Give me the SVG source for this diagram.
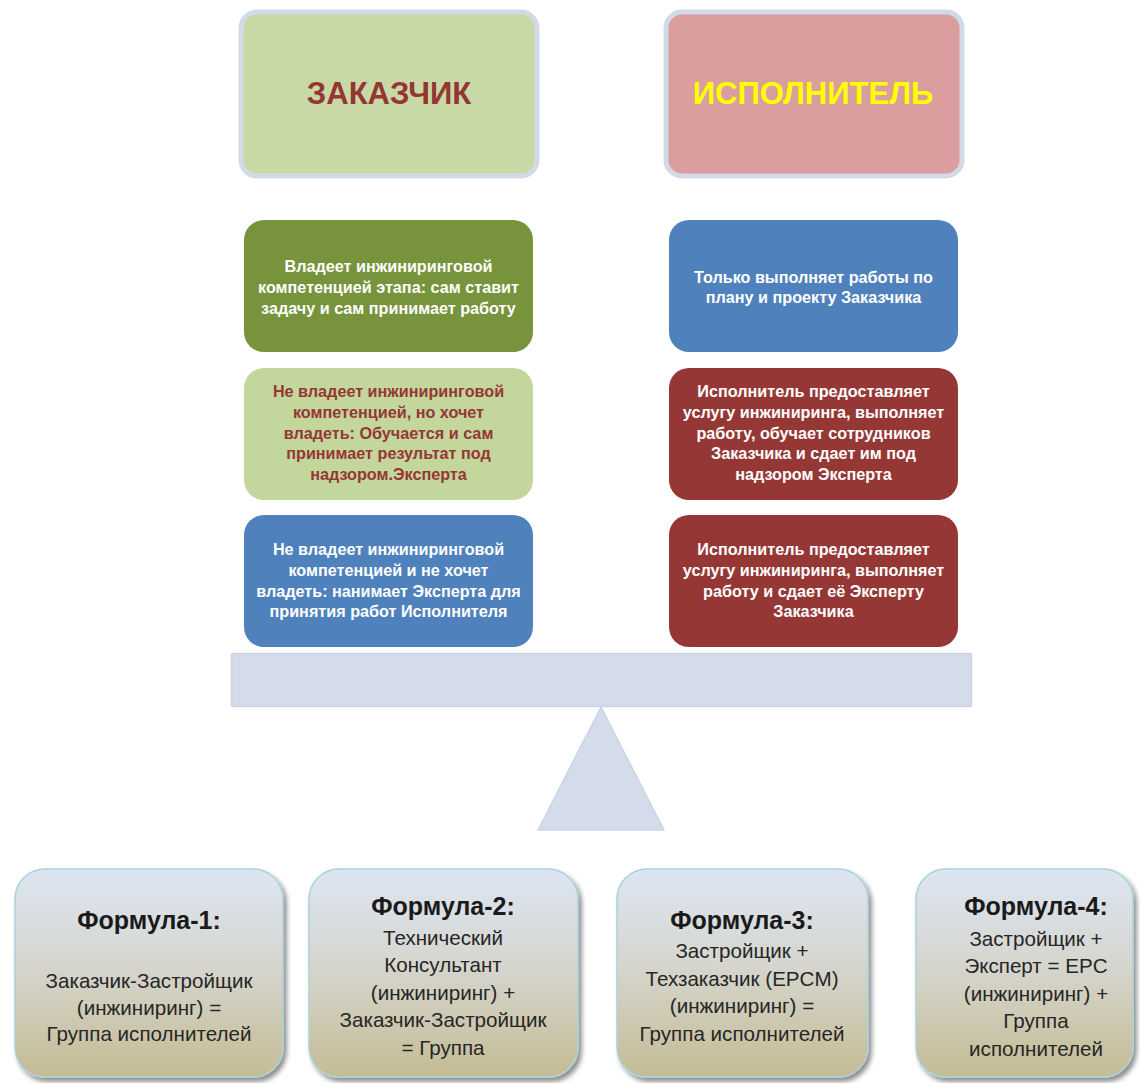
<svg xmlns="http://www.w3.org/2000/svg" width="1140" height="1083" viewBox="0 0 1140 1083">
<defs>
<linearGradient id="fg" x1="0" y1="0" x2="0" y2="1">
<stop offset="0" stop-color="#DCE6F2"/>
<stop offset="0.45" stop-color="#D6D6D0"/>
<stop offset="1" stop-color="#C4BC94"/>
</linearGradient>
<filter id="sh" x="-10%" y="-10%" width="125%" height="125%">
<feDropShadow dx="3" dy="4" stdDeviation="2.5" flood-color="#000" flood-opacity="0.45"/>
</filter>
</defs>
<style>
.top{stroke:#D2DAE8;stroke-width:5}
.title{font-family:"Liberation Sans",Arial,sans-serif;font-weight:bold;font-size:31px;text-anchor:middle}
.mid{font-family:"Liberation Sans",Arial,sans-serif;font-weight:bold;font-size:16.2px;text-anchor:middle}
.w{fill:#FFFFFF}
.r{fill:#953735}
.beam{fill:#D4DBEA;stroke:#CCD4E6;stroke-width:1.5}
.fbox{fill:url(#fg);stroke:#A9D2DA;stroke-width:1.5;filter:url(#sh)}
.fh{font-family:"Liberation Sans",Arial,sans-serif;font-weight:bold;font-size:25px;text-anchor:middle;fill:#1A1A1A}
.fb{font-family:"Liberation Sans",Arial,sans-serif;font-size:20.6px;text-anchor:middle;fill:#262626}
</style>
<rect width="1140" height="1083" fill="#FFFFFF"/>

<g id="zakazchik">
<rect class="top" x="241" y="12" width="296" height="164" rx="16" fill="#C9D9A5"/>
<text class="title" x="389" y="104" fill="#943634">ЗАКАЗЧИК</text>
</g>
<g id="ispolnitel">
<rect class="top" x="666" y="12" width="296" height="164" rx="16" fill="#D99E9D"/>
<text class="title" x="813" y="104" fill="#FFFF00">ИСПОЛНИТЕЛЬ</text>
</g>

<g id="z1">
<rect x="244" y="220" width="289" height="132" rx="20" fill="#77933C"/>
<text class="mid w"><tspan x="388.5" y="272">Владеет инжиниринговой</tspan><tspan x="388.5" y="293">компетенцией этапа: сам ставит</tspan><tspan x="388.5" y="314">задачу и сам принимает работу</tspan></text>
</g>
<g id="z2">
<rect x="244" y="368" width="289" height="132" rx="20" fill="#C3D69B"/>
<text class="mid r"><tspan x="388.5" y="397">Не владеет инжиниринговой</tspan><tspan x="388.5" y="418">компетенцией, но хочет</tspan><tspan x="388.5" y="438.5">владеть: Обучается и сам</tspan><tspan x="388.5" y="459">принимает результат под</tspan><tspan x="388.5" y="480">надзором.Эксперта</tspan></text>
</g>
<g id="z3">
<rect x="244" y="515" width="289" height="132" rx="20" fill="#4F81BD"/>
<text class="mid w"><tspan x="388.5" y="555">Не владеет инжиниринговой</tspan><tspan x="388.5" y="576">компетенцией и не хочет</tspan><tspan x="388.5" y="596.5">владеть: нанимает Эксперта для</tspan><tspan x="388.5" y="617">принятия работ Исполнителя</tspan></text>
</g>

<g id="i1">
<rect x="669" y="220" width="289" height="132" rx="20" fill="#4F81BD"/>
<text class="mid w"><tspan x="813.5" y="283">Только выполняет работы по</tspan><tspan x="813.5" y="303">плану и проекту Заказчика</tspan></text>
</g>
<g id="i2">
<rect x="669" y="368" width="289" height="132" rx="20" fill="#953735"/>
<text class="mid w"><tspan x="813.5" y="397">Исполнитель  предоставляет</tspan><tspan x="813.5" y="418">услугу инжиниринга, выполняет</tspan><tspan x="813.5" y="438.5">работу, обучает сотрудников</tspan><tspan x="813.5" y="459">Заказчика и сдает им под</tspan><tspan x="813.5" y="480">надзором Эксперта</tspan></text>
</g>
<g id="i3">
<rect x="669" y="515" width="289" height="132" rx="20" fill="#953735"/>
<text class="mid w"><tspan x="813.5" y="555">Исполнитель предоставляет</tspan><tspan x="813.5" y="576">услугу инжиниринга, выполняет</tspan><tspan x="813.5" y="596.5">работу и сдает её Эксперту</tspan><tspan x="813.5" y="617">Заказчика</tspan></text>
</g>

<g id="scale">
<rect class="beam" x="231.5" y="653.5" width="740" height="53" rx="2"/>
<polygon class="beam" points="601,707 664,830 538,830" stroke-linejoin="round"/>
</g>

<g id="f1">
<rect class="fbox" x="15" y="869" width="268" height="208" rx="30"/>
<text class="fh" x="149" y="929">Формула-1:</text>
<text class="fb"><tspan x="149" y="988">Заказчик-Застройщик</tspan><tspan x="149" y="1015">(инжиниринг) =</tspan><tspan x="149" y="1041">Группа исполнителей</tspan></text>
</g>
<g id="f2">
<rect class="fbox" x="309" y="869" width="269" height="208" rx="30"/>
<text class="fh" x="443" y="915">Формула-2:</text>
<text class="fb"><tspan x="443" y="945">Технический</tspan><tspan x="443" y="972">Консультант</tspan><tspan x="443" y="1000">(инжиниринг) +</tspan><tspan x="443" y="1027">Заказчик-Застройщик</tspan><tspan x="443" y="1055">= Группа</tspan></text>
</g>
<g id="f3">
<rect class="fbox" x="617" y="869" width="251" height="208" rx="30"/>
<text class="fh" x="742" y="929">Формула-3:</text>
<text class="fb"><tspan x="742" y="958">Застройщик +</tspan><tspan x="742" y="986">Техзаказчик (EPCM)</tspan><tspan x="742" y="1013">(инжиниринг) =</tspan><tspan x="742" y="1041">Группа исполнителей</tspan></text>
</g>
<g id="f4">
<rect class="fbox" x="916" y="869" width="217" height="208" rx="30"/>
<text class="fh" x="1036" y="915">Формула-4:</text>
<text class="fb"><tspan x="1036" y="946">Застройщик +</tspan><tspan x="1036" y="973">Эксперт = EPC</tspan><tspan x="1036" y="1001">(инжиниринг) +</tspan><tspan x="1036" y="1028">Группа</tspan><tspan x="1036" y="1056">исполнителей</tspan></text>
</g>
<g id="connectors"></g>
</svg>
